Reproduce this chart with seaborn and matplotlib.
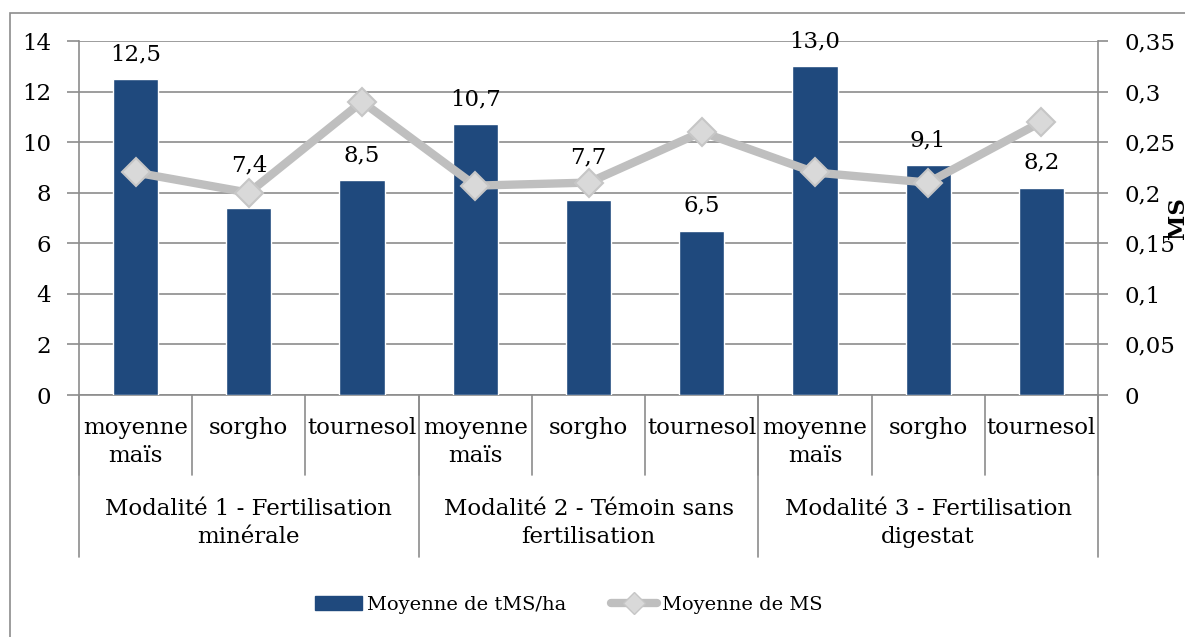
import numpy as np
import pandas as pd
import matplotlib
matplotlib.use('Agg')
import matplotlib.pyplot as plt
import seaborn as sns
from matplotlib.lines import Line2D
from matplotlib.patches import Patch, Rectangle
from matplotlib.transforms import blended_transform_factory

sns.set_style('white')
plt.rcParams['font.family'] = ['DejaVu Serif']
plt.rcParams['text.color'] = 'black'
plt.rcParams['ytick.labelcolor'] = 'black'

# données
groupes = ['Modalité 1 - Fertilisation\nminérale',
           'Modalité 2 - Témoin sans\nfertilisation',
           'Modalité 3 - Fertilisation\ndigestat']
cultures = ['moyenne\nmaïs', 'sorgho', 'tournesol']
tms_ha = [12.5, 7.4, 8.5, 10.7, 7.7, 6.5, 13.0, 9.1, 8.2]
ms = [0.22, 0.20, 0.29, 0.207, 0.21, 0.26, 0.22, 0.21, 0.27]
yticks_g = [0, 2, 4, 6, 8, 10, 12, 14]
yticks_d = [0, 0.05, 0.1, 0.15, 0.2, 0.25, 0.3, 0.35]
ylabels_d = ['0', '0,05', '0,1', '0,15', '0,2', '0,25', '0,3', '0,35']

df = pd.DataFrame({
    'cle': [f'{g}|{c}' for g in groupes for c in cultures],
    'culture': [c for g in groupes for c in cultures],
    'tms': tms_ha,
    'ms': ms,
})
df['pos'] = np.arange(len(df))

bleu = '#1F497D'
gris_ligne = '#BFBFBF'
gris_axe = '#8C8C8C'
fs = 16.5

W, H = 1185, 637
fig = plt.figure(figsize=(W / 100, H / 100), dpi=100)
ax = fig.add_axes([79 / W, 1 - 395 / H, (1098 - 79) / W, (395 - 41) / H])

sns.barplot(data=df, x='cle', y='tms', color=bleu, width=0.4, saturation=1,
            ax=ax, zorder=3)
ax.set_xlim(-0.5, len(df) - 0.5)
ax.set_ylim(0, 14)
ax.set_yticks(yticks_g)
ax.set_yticklabels([str(v) for v in yticks_g], fontsize=fs)
ax.set_xticks([])
ax.set_xlabel('')
ax.set_ylabel('')
ax.grid(axis='y', color=gris_axe, lw=1.2, zorder=0)
ax.tick_params(axis='y', length=9, width=1.2, color=gris_axe, pad=11)
for s in ['top', 'right']:
    ax.spines[s].set_visible(False)
for s in ['left', 'bottom']:
    ax.spines[s].set_color(gris_axe)
    ax.spines[s].set_linewidth(1.2)

etiquettes = ax.bar_label(ax.containers[0],
                          labels=[f'{v:.1f}'.replace('.', ',') for v in tms_ha],
                          padding=10, fontsize=fs)
# les étiquettes des sorghos 1 et 2 sont remontées au-dessus de la courbe
for i in [1, 4]:
    etiquettes[i].xyann = (0, 23)

ax2 = ax.twinx()
sns.lineplot(data=df, x='pos', y='ms', ax=ax2, color=gris_ligne, lw=6,
             marker='D', markersize=14, markerfacecolor='#D9D9D9',
             markeredgecolor='#C6C6C6', markeredgewidth=1.5, zorder=5)
ax2.set_ylim(0, 0.35)
ax2.set_yticks(yticks_d)
ax2.set_yticklabels(ylabels_d, fontsize=fs)
ax2.set_xlabel('')
ax2.set_ylabel('')
ax2.tick_params(axis='y', length=7, width=1.2, color=gris_axe, pad=12)
for s in ['top', 'left', 'bottom']:
    ax2.spines[s].set_visible(False)
ax2.spines['right'].set_color(gris_axe)
ax2.spines['right'].set_linewidth(1.2)
ax2.set_xlim(-0.5, len(df) - 0.5)

# étiquettes hiérarchiques
tr = blended_transform_factory(ax.transData, ax.transAxes)
hpx = 395 - 41
for i, c in enumerate(df['culture']):
    ax.text(i, -(417 - 395) / hpx, c, transform=tr, ha='center', va='top',
            fontsize=fs, linespacing=1.35)
for b in np.arange(-0.5, len(df), 1):
    ax.plot([b, b], [0, -(475 - 395) / hpx], transform=tr, color=gris_axe,
            lw=1.2, clip_on=False)
n = len(cultures)
for k, g in enumerate(groupes):
    ax.text(k * n + (n - 1) / 2, -(498 - 395) / hpx, g, transform=tr,
            ha='center', va='top', fontsize=fs, linespacing=1.35)
for b in np.arange(-0.5, len(df), n):
    ax.plot([b, b], [0, -(557 - 395) / hpx], transform=tr, color=gris_axe,
            lw=1.2, clip_on=False)

fig.text(1167 / W, 1 - 218 / H, 'MS', rotation=90, fontsize=fs,
         fontweight='bold', ha='left', va='center')

handles = [Patch(color=bleu, label='Moyenne de tMS/ha'),
           Line2D([], [], color=gris_ligne, lw=6, marker='D', markersize=11,
                  markerfacecolor='#D9D9D9', markeredgecolor='#C6C6C6',
                  label='Moyenne de MS')]
fig.legend(handles=handles, loc='center', bbox_to_anchor=(569 / W, 1 - 605 / H),
           ncol=2, frameon=False, fontsize=14, handlelength=2.4,
           handleheight=0.75, handletextpad=0.25, columnspacing=2.3)

fig.patches.append(Rectangle((10 / W, -0.1), 1.2, (H - 13) / H + 0.1,
                             transform=fig.transFigure, fill=False,
                             edgecolor=gris_axe, lw=1.2))

fig.savefig('out.png', dpi=100)
